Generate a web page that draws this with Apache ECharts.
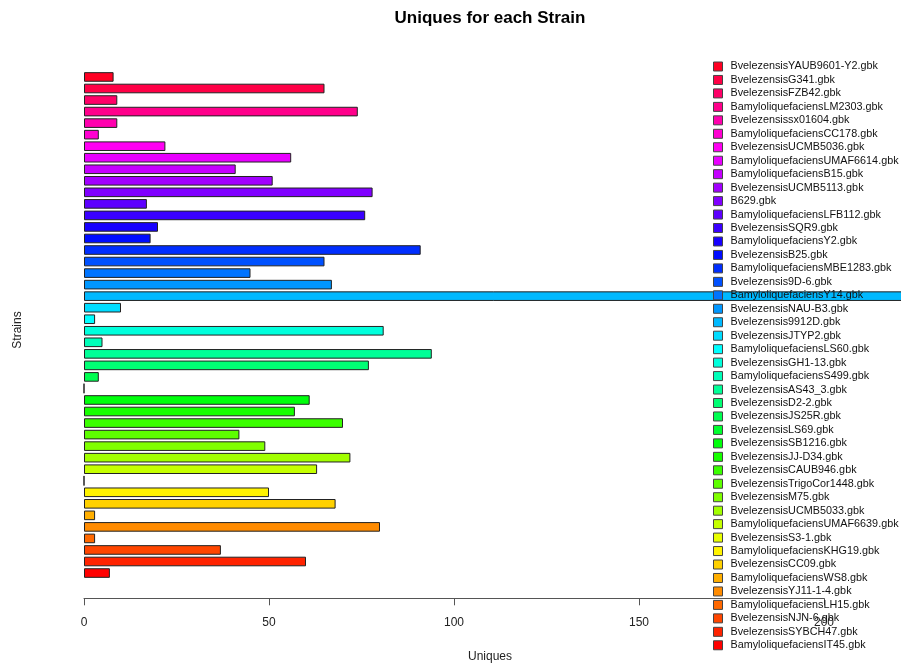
<!DOCTYPE html>
<html>
<head>
<meta charset="utf-8">
<title>Uniques for each Strain</title>
<script src="https://cdn.jsdelivr.net/npm/echarts@6/dist/echarts.min.js"></script>
<style>
  html, body { margin: 0; padding: 0; background: #ffffff; }
  #chart { width: 901px; height: 666px; }
</style>
</head>
<body>
<div id="chart"></div>
<script>
// Strains, listed top to bottom as drawn
const strains = [
  'BvelezensisYAUB9601-Y2.gbk', 'BvelezensisG341.gbk', 'BvelezensisFZB42.gbk',
  'BamyloliquefaciensLM2303.gbk', 'Bvelezensissx01604.gbk', 'BamyloliquefaciensCC178.gbk',
  'BvelezensisUCMB5036.gbk', 'BamyloliquefaciensUMAF6614.gbk', 'BamyloliquefaciensB15.gbk',
  'BvelezensisUCMB5113.gbk', 'B629.gbk', 'BamyloliquefaciensLFB112.gbk',
  'BvelezensisSQR9.gbk', 'BamyloliquefaciensY2.gbk', 'BvelezensisB25.gbk',
  'BamyloliquefaciensMBE1283.gbk', 'Bvelezensis9D-6.gbk', 'BamyloliquefaciensY14.gbk',
  'BvelezensisNAU-B3.gbk', 'Bvelezensis9912D.gbk', 'BvelezensisJTYP2.gbk',
  'BamyloliquefaciensLS60.gbk', 'BvelezensisGH1-13.gbk', 'BamyloliquefaciensS499.gbk',
  'BvelezensisAS43_3.gbk', 'BvelezensisD2-2.gbk', 'BvelezensisJS25R.gbk',
  'BvelezensisLS69.gbk', 'BvelezensisSB1216.gbk', 'BvelezensisJJ-D34.gbk',
  'BvelezensisCAUB946.gbk', 'BvelezensisTrigoCor1448.gbk', 'BvelezensisM75.gbk',
  'BvelezensisUCMB5033.gbk', 'BamyloliquefaciensUMAF6639.gbk', 'BvelezensisS3-1.gbk',
  'BamyloliquefaciensKHG19.gbk', 'BvelezensisCC09.gbk', 'BamyloliquefaciensWS8.gbk',
  'BvelezensisYJ11-1-4.gbk', 'BamyloliquefaciensLH15.gbk', 'BvelezensisNJN-6.gbk',
  'BvelezensisSYBCH47.gbk', 'BamyloliquefaciensIT45.gbk'
];

// Unique gene counts per strain, same order
const uniques = [
  8, 65, 9, 74, 9, 4, 22, 56, 41, 51, 78, 17, 76, 20, 18, 91, 65, 45, 67, 222,
  10, 3, 81, 5, 94, 77, 4, 0, 61, 57, 70, 42, 49, 72, 63, 0, 50, 68, 3, 80,
  3, 37, 60, 7
];

// Axis ticks along the Uniques axis
const xTicks = [0, 50, 100, 150, 200];

// Rainbow palette: hue runs from red at the bottom bar round to magenta-red at the top
function rainbow(k, n) {
  const h = (k / n) * 6;
  const i = Math.floor(h);
  const f = h - i;
  let r, g, b;
  switch (i % 6) {
    case 0: r = 1; g = f; b = 0; break;
    case 1: r = 1 - f; g = 1; b = 0; break;
    case 2: r = 0; g = 1; b = f; break;
    case 3: r = 0; g = 1 - f; b = 1; break;
    case 4: r = f; g = 0; b = 1; break;
    default: r = 1; g = 0; b = 1 - f; break;
  }
  const hex = v => Math.round(v * 255).toString(16).padStart(2, '0');
  return '#' + hex(r) + hex(g) + hex(b);
}

const n = strains.length;
const colors = strains.map((_, i) => rainbow(n - 1 - i, n));

// One series per strain so each one gets its own legend entry
const series = strains.map((name, i) => ({
  name: name,
  type: 'bar',
  stack: 'all',
  clip: false,
  barCategoryGap: '16.7%',
  data: strains.map((_, j) => (j === i ? uniques[i] : '-')),
  itemStyle: { color: colors[i], borderColor: '#222', borderWidth: 1 },
  emphasis: { disabled: true },
  silent: true
}));

const chart = echarts.init(document.getElementById('chart'), null, { renderer: 'canvas' });

chart.setOption({
  backgroundColor: '#ffffff',
  animation: false,
  textStyle: { fontFamily: 'Liberation Sans, Arial, sans-serif' },
  grid: { left: 84, right: 77, top: 71.2, bottom: 87.2, containLabel: false },
  xAxis: {
    type: 'value',
    min: xTicks[0],
    max: xTicks[xTicks.length - 1],
    interval: xTicks[1] - xTicks[0],
    offset: 19.5,
    axisLine: { show: true, lineStyle: { color: '#555', width: 1 } },
    axisTick: { show: true, length: 7, lineStyle: { color: '#555' } },
    axisLabel: { fontSize: 12, color: '#222', margin: 18 },
    splitLine: { show: false }
  },
  yAxis: {
    type: 'category',
    inverse: true,
    data: strains,
    axisLine: { show: false },
    axisTick: { show: false },
    axisLabel: { show: false },
    splitLine: { show: false }
  },
  legend: {
    orient: 'vertical',
    left: 713,
    top: 61,
    padding: 0,
    icon: 'rect',
    itemWidth: 9,
    itemHeight: 9,
    itemGap: 2.46,
    selectedMode: false,
    data: strains,
    itemStyle: { borderColor: '#444', borderWidth: 1 },
    textStyle: { fontSize: 10.8, color: '#111', lineHeight: 10, padding: [0, 0, 0, 3] }
  },
  graphic: [
    {
      type: 'text', x: 490, y: 18,
      style: {
        text: 'Uniques for each Strain', fontSize: 17, fontWeight: 'bold',
        fontFamily: 'Liberation Sans, Arial, sans-serif',
        fill: '#000', align: 'center', verticalAlign: 'middle'
      }
    },
    {
      type: 'text', x: 490, y: 657,
      style: {
        text: 'Uniques', fontSize: 12,
        fontFamily: 'Liberation Sans, Arial, sans-serif',
        fill: '#222', align: 'center', verticalAlign: 'middle'
      }
    },
    {
      type: 'text', x: 17.5, y: 330, rotation: Math.PI / 2,
      style: {
        text: 'Strains', fontSize: 12,
        fontFamily: 'Liberation Sans, Arial, sans-serif',
        fill: '#222', align: 'center', verticalAlign: 'middle'
      }
    }
  ],
  series: series
});
</script>
</body>
</html>
